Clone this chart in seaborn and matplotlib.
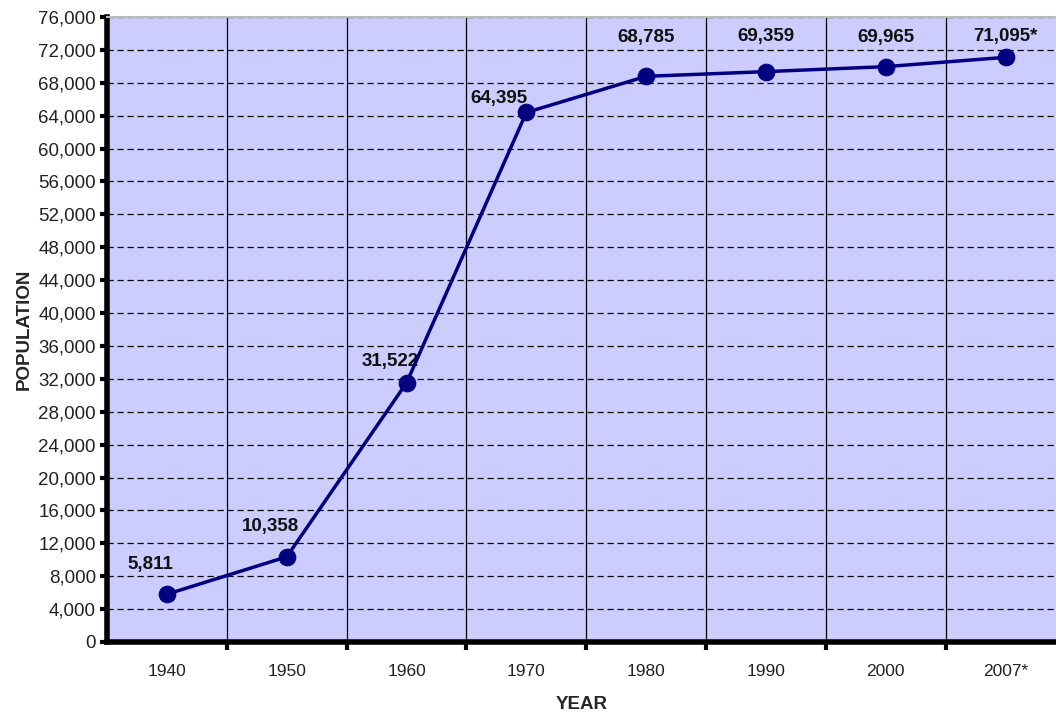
import matplotlib
matplotlib.use("Agg")
import matplotlib.pyplot as plt
import numpy as np
import seaborn as sns

# ── data ──────────────────────────────
years = ["1940", "1950", "1960", "1970", "1980", "1990", "2000", "2007*"]
population = [5811, 10358, 31522, 64395, 68785, 69359, 69965, 71095]
point_labels = ["5,811", "10,358", "31,522", "64,395", "68,785", "69,359", "69,965", "71,095*"]
y_ticks = list(range(0, 76001, 4000))

sns.set_theme(style="white")
plt.rcParams["font.family"] = ["Liberation Sans", "DejaVu Sans"]

fig = plt.figure(figsize=(10.56, 7.18), dpi=100)
ax = fig.add_axes([107 / 1056, 76 / 718, 1 - 107 / 1056, (642 - 17) / 718])
ax.set_facecolor("#CCCCFF")

sns.lineplot(
    x=years, y=population, ax=ax, color="#000080", linewidth=2.5,
    marker="o", markersize=12, markeredgecolor="#000080", zorder=5, sort=False,
)

# label offsets (points) – Excel style "above" labels
offsets = [(-12, 15), (-12, 16), (-12, 9), (-20, 4), (0, 22), (0, 19), (0, 15), (0, 9)]
for i, (v, lab) in enumerate(zip(population, point_labels)):
    ax.annotate(lab, (i, v), xytext=offsets[i], textcoords="offset points",
                ha="center", va="bottom", fontsize=13.5, fontweight="bold", color="#111111")

ax.set_ylim(0, 76000)
ax.set_xlim(-0.5, 7.42)
ax.set_yticks(y_ticks)
ax.set_yticklabels([f"{t:,}" for t in y_ticks], fontsize=13.5, color="#222222")
ax.set_xticks(range(len(years)))
ax.set_xticklabels(years, fontsize=12.5, color="#222222")
ax.set_xticks(np.arange(0.5, len(years) - 0.5, 1.0), minor=True)

ax.tick_params(axis="y", which="major", direction="out", length=5, width=3, color="black", pad=3, left=True)
ax.tick_params(axis="x", which="major", length=0, pad=16)
ax.tick_params(axis="x", which="minor", direction="out", length=6, width=3, color="black", bottom=True)

ax.yaxis.grid(True, linestyle=(0, (5, 3)), color="black", linewidth=0.9)
ax.xaxis.grid(True, which="minor", linestyle="-", color="black", linewidth=0.9)
ax.xaxis.grid(False, which="major")
ax.set_axisbelow(True)

for side in ["left", "bottom"]:
    ax.spines[side].set_linewidth(4)
    ax.spines[side].set_color("black")
ax.spines["top"].set_color("#BBBBBB")
ax.spines["top"].set_linewidth(1.5)
ax.spines["right"].set_visible(False)

ax.set_xlabel("YEAR", fontsize=13.5, fontweight="bold", labelpad=12)
ax.set_ylabel("POPULATION", fontsize=13.5, fontweight="bold", labelpad=4)

fig.savefig("out.png", dpi=100)
